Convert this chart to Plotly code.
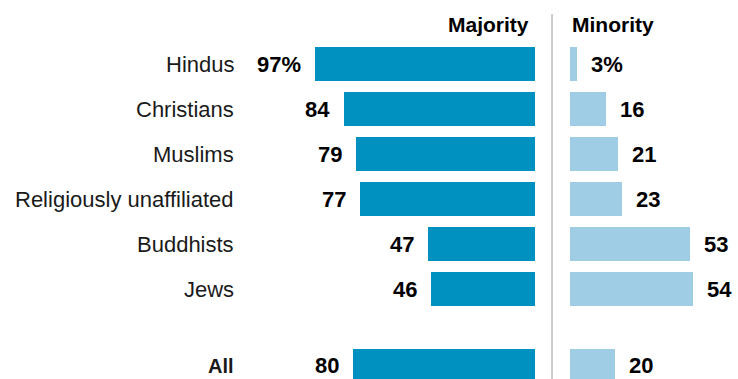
import plotly.graph_objects as go

categories = ["Hindus", "Christians", "Muslims", "Religiously unaffiliated", "Buddhists", "Jews", "All"]
majority = [97, 84, 79, 77, 47, 46, 80]
minority = [3, 16, 21, 23, 53, 54, 20]
maj_labels = ["97%", "84", "79", "77", "47", "46", "80"]
min_labels = ["3%", "16", "21", "23", "53", "54", "20"]
ypos = [0, 1, 2, 3, 4, 5, 6.71]

W, H = 738, 379
MAJ_COLOR = "#0091c1"
MIN_COLOR = "#a0cde6"

fig = go.Figure()
fig.add_trace(go.Bar(x=majority, y=ypos, orientation="h", width=0.74,
                     marker=dict(color=MAJ_COLOR, line=dict(width=0)),
                     xaxis="x", yaxis="y", hoverinfo="skip"))
fig.add_trace(go.Bar(x=minority, y=ypos, orientation="h", width=0.74,
                     marker=dict(color=MIN_COLOR, line=dict(width=0)),
                     xaxis="x2", yaxis="y", hoverinfo="skip"))

bold = "Liberation Sans"
annots = []
for c, yv in zip(categories, ypos):
    is_all = c == "All"
    annots.append(dict(x=236 / W, xref="paper", y=yv, yref="y", text=("<b>%s</b>" % c) if is_all else c,
                       xanchor="right", yanchor="middle", showarrow=False,
                       font=dict(family="Liberation Sans", size=22 if not is_all else 20, color="#1a1a1a")))
for v, t, yv in zip(majority, maj_labels, ypos):
    annots.append(dict(x=v, xref="x", y=yv, yref="y", text="<b>%s</b>" % t, xanchor="right",
                       yanchor="middle", xshift=-12, showarrow=False,
                       font=dict(family=bold, size=22, color="#000000")))
for v, t, yv in zip(minority, min_labels, ypos):
    annots.append(dict(x=v, xref="x2", y=yv, yref="y", text="<b>%s</b>" % t, xanchor="left",
                       yanchor="middle", xshift=12, showarrow=False,
                       font=dict(family=bold, size=22, color="#000000")))
annots.append(dict(x=531 / W, xref="paper", y=1 - 24 / H, yref="paper", text="<b>Majority</b>",
                   xanchor="right", yanchor="middle", showarrow=False,
                   font=dict(family=bold, size=21, color="#000000")))
annots.append(dict(x=570 / W, xref="paper", y=1 - 24 / H, yref="paper", text="<b>Minority</b>",
                   xanchor="left", yanchor="middle", showarrow=False,
                   font=dict(family=bold, size=21, color="#000000")))

fig.update_layout(
    width=W, height=H, margin=dict(l=0, r=0, t=0, b=0),
    paper_bgcolor="white", plot_bgcolor="white", showlegend=False, bargap=0,
    xaxis=dict(domain=[(535 - 227) / W, 535 / W], range=[100, 0], visible=False, fixedrange=True),
    xaxis2=dict(domain=[570 / W, 1.0], range=[0, 74], visible=False, fixedrange=True),
    yaxis=dict(range=[315 / 45, -64 / 45], visible=False, fixedrange=True),
    annotations=annots,
    shapes=[dict(type="line", xref="paper", yref="paper", x0=552 / W, x1=552 / W,
                 y0=0, y1=1 - 14 / H, line=dict(color="#9a9a9a", width=1))],
)

fig.write_html("out.html")
